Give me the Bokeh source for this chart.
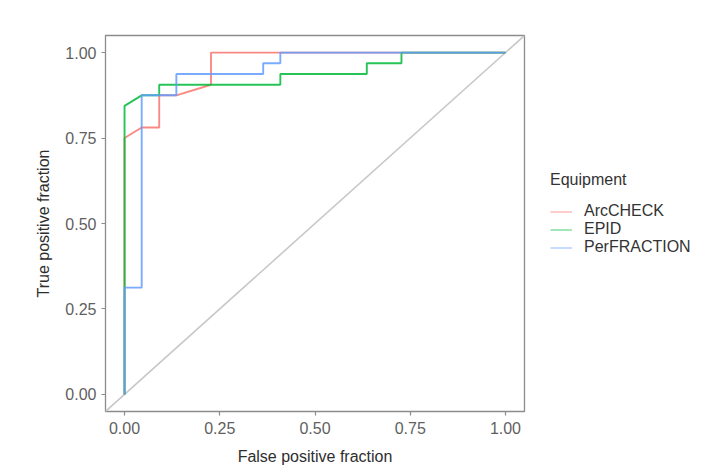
from bokeh.plotting import figure
from bokeh.models import Range1d, FixedTicker, CustomJSTickFormatter, Legend, LegendItem
from bokeh.embed import file_html
from bokeh.resources import INLINE

# ---- data ----
series_names = ["ArcCHECK", "EPID", "PerFRACTION"]
series_colors = ["#F8766D", "#00BA38", "#619CFF"]

fpf_arccheck = [0.0, 0.0, 0.045, 0.091, 0.091, 0.136, 0.227, 0.227, 1.0]
tpf_arccheck = [0.0, 0.75, 0.781, 0.781, 0.875, 0.875, 0.906, 1.0, 1.0]

fpf_epid = [0.0, 0.0, 0.045, 0.091, 0.091, 0.409, 0.409, 0.636, 0.636, 0.727, 0.727, 1.0]
tpf_epid = [0.0, 0.844, 0.875, 0.875, 0.906, 0.906, 0.9375, 0.9375, 0.969, 0.969, 1.0, 1.0]

fpf_perfraction = [0.0, 0.0, 0.045, 0.045, 0.136, 0.136, 0.364, 0.364, 0.409, 0.409, 1.0]
tpf_perfraction = [0.0, 0.3125, 0.3125, 0.875, 0.875, 0.9375, 0.9375, 0.969, 0.969, 1.0, 1.0]

diag_x = [-0.05, 1.05]
diag_y = [-0.05, 1.05]

tick_values = [0.0, 0.25, 0.5, 0.75, 1.0]

FONT = "Liberation Sans"

p = figure(frame_width=419, frame_height=376, output_backend="svg", toolbar_location=None,
           x_range=Range1d(-0.05, 1.05), y_range=Range1d(-0.05, 1.05),
           min_border_left=105, min_border_top=35, min_border_bottom=50, min_border_right=176)
p.background_fill_color = "white"
p.border_fill_color = "white"
p.outline_line_color = "#8c8c8c"
p.outline_line_width = 1.3
p.xgrid.visible = False
p.ygrid.visible = False

p.line(diag_x, diag_y, line_color="#c8c8c8", line_width=1.6)

xs = [fpf_arccheck, fpf_epid, fpf_perfraction]
ys = [tpf_arccheck, tpf_epid, tpf_perfraction]
items = []
for name, col, x, y in zip(series_names, series_colors, xs, ys):
    p.line(x, y, line_color=col, line_width=1.9, line_alpha=0.85)
    key = p.line([float("nan")], [float("nan")], line_color=col, line_width=1.6, line_alpha=0.45)
    items.append(LegendItem(label=name, renderers=[key]))

fmt = CustomJSTickFormatter(code="return tick.toFixed(2);")
for ax in (p.xaxis[0], p.yaxis[0]):
    ax.ticker = FixedTicker(ticks=tick_values)
    ax.formatter = fmt
    ax.axis_line_color = None
    ax.major_tick_line_color = "#8c8c8c"
    ax.major_tick_line_width = 1.2
    ax.major_tick_out = 4
    ax.major_tick_in = 0
    ax.minor_tick_line_color = None
    ax.major_label_text_font = FONT
    ax.major_label_text_font_size = "16px"
    ax.major_label_text_color = "#5f5f5f"
    ax.axis_label_text_font = FONT
    ax.axis_label_text_font_size = "16px"
    ax.axis_label_text_font_style = "normal"
    ax.axis_label_text_color = "#2e2e2e"

p.xaxis.axis_label = "False positive fraction"
p.yaxis.axis_label = "True positive fraction"
p.xaxis.major_label_standoff = 6
p.xaxis.axis_label_standoff = 11
p.yaxis.major_label_standoff = 5
p.yaxis.axis_label_standoff = 10

legend = Legend(items=items, title="Equipment", location=(26, 155))
legend.title_text_font = FONT
legend.title_text_font_size = "16px"
legend.title_text_font_style = "normal"
legend.title_text_color = "#333333"
legend.title_standoff = 13
legend.label_text_font = FONT
legend.label_text_font_size = "16px"
legend.label_text_line_height = 0.9
legend.label_text_color = "#333333"
legend.label_standoff = 12
legend.glyph_width = 22
legend.glyph_height = 15
legend.label_height = 15
legend.spacing = 0
legend.padding = 0
legend.margin = 0
legend.border_line_color = None
legend.background_fill_alpha = 0
p.add_layout(legend, "right")

open("out.html", "w").write(file_html(p, INLINE))
